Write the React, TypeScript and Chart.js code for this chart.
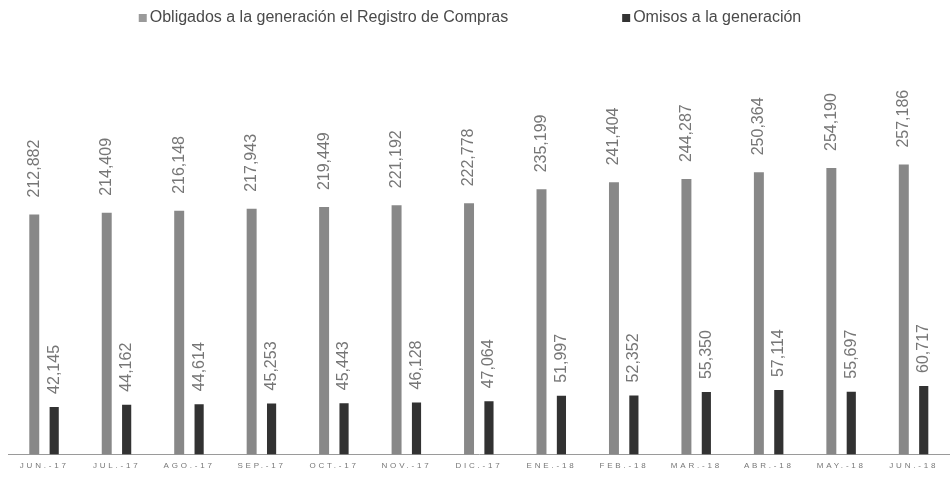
import React, { useEffect, useRef } from "react";
import { Chart, registerables } from "chart.js";

Chart.register(...registerables);

const categories = [
  "JUN.-17", "JUL.-17", "AGO.-17", "SEP.-17", "OCT.-17", "NOV.-17", "DIC.-17",
  "ENE.-18", "FEB.-18", "MAR.-18", "ABR.-18", "MAY.-18", "JUN.-18",
];
const obligados = [212882, 214409, 216148, 217943, 219449, 221192, 222778, 235199, 241404, 244287, 250364, 254190, 257186];
const omisos = [42145, 44162, 44614, 45253, 45443, 46128, 47064, 51997, 52352, 55350, 57114, 55697, 60717];
const seriesNames = ["Obligados a la generación el Registro de Compras", "Omisos a la generación"];
const seriesColors = ["#888888", "#323232"];
const legendColors = ["#9a9a9a", "#333333"];
const labelOffsets = [17, 13];

const FONT = "'Liberation Sans', Arial, sans-serif";

const tickSpacing = {
  id: "tickSpacing",
  beforeDraw(chart: any) {
    chart.ctx.letterSpacing = "2.8px";
  },
  beforeDatasetsDraw(chart: any) {
    chart.ctx.letterSpacing = "0px";
  },
};

const valueLabels = {
  id: "valueLabels",
  afterDatasetsDraw(chart: any) {
    const ctx = chart.ctx;
    chart.data.datasets.forEach((ds: any, di: number) => {
      const meta = chart.getDatasetMeta(di);
      meta.data.forEach((el: any, i: number) => {
        const v = ds.data[i];
        ctx.save();
        ctx.translate(el.x, el.y - labelOffsets[di]);
        ctx.rotate(-Math.PI / 2);
        ctx.font = `16px ${FONT}`;
        ctx.fillStyle = "#767676";
        ctx.textAlign = "left";
        ctx.textBaseline = "middle";
        ctx.fillText(Number(v).toLocaleString("en-US"), 0, 0);
        ctx.restore();
      });
    });
  },
};

const customLegend = {
  id: "customLegend",
  afterDraw(chart: any) {
    const ctx = chart.ctx;
    ctx.save();
    ctx.letterSpacing = "0px";
    ctx.font = `16px ${FONT}`;
    const box = 8;
    const boxGap = 3;
    const itemGap = 114;
    const widths = seriesNames.map((n) => box + boxGap + ctx.measureText(n).width);
    const total = widths.reduce((a, b) => a + b, 0) + itemGap * (widths.length - 1);
    let x = chart.width / 2 - 5 - total / 2;
    const y = 18;
    seriesNames.forEach((n, i) => {
      ctx.fillStyle = legendColors[i];
      ctx.fillRect(x, y - box / 2, box, box);
      ctx.fillStyle = "#4a4a4a";
      ctx.textAlign = "left";
      ctx.textBaseline = "middle";
      ctx.fillText(n, x + box + boxGap, y);
      x += widths[i] + itemGap;
    });
    ctx.restore();
  },
};

export default function App() {
  const ref = useRef<HTMLCanvasElement | null>(null);
  useEffect(() => {
    if (!ref.current) return;
    const chart = new Chart(ref.current, {
      type: "bar",
      data: {
        labels: categories,
        datasets: [
          {
            label: seriesNames[0],
            data: obligados,
            backgroundColor: seriesColors[0],
            barPercentage: 0.5,
            categoryPercentage: 0.55,
          },
          {
            label: seriesNames[1],
            data: omisos,
            backgroundColor: seriesColors[1],
            barPercentage: 0.46,
            categoryPercentage: 0.55,
          },
        ],
      },
      options: {
        animation: false,
        responsive: false,
        maintainAspectRatio: false,
        layout: { padding: { top: 60, left: 8, right: 0, bottom: 2 } },
        plugins: {
          legend: { display: false },
          tooltip: { enabled: false },
        },
        scales: {
          x: {
            grid: { display: false, drawTicks: false },
            border: { display: true, color: "#9a9a9a", dash: [1, 2] },
            ticks: {
              padding: 7,
              color: "#777777",
              font: { size: 8, family: FONT },
              maxRotation: 0,
              autoSkip: false,
            },
          },
          y: {
            display: false,
            min: 0,
            max: 350000,
          },
        },
      },
      plugins: [tickSpacing, valueLabels, customLegend],
    });
    return () => chart.destroy();
  }, []);
  return (
    <div style={{ position: "fixed", left: 0, top: 0, width: 950, height: 480, background: "#fff" }}>
      <canvas ref={ref} width={950} height={480} style={{ display: "block" }} />
    </div>
  );
}
